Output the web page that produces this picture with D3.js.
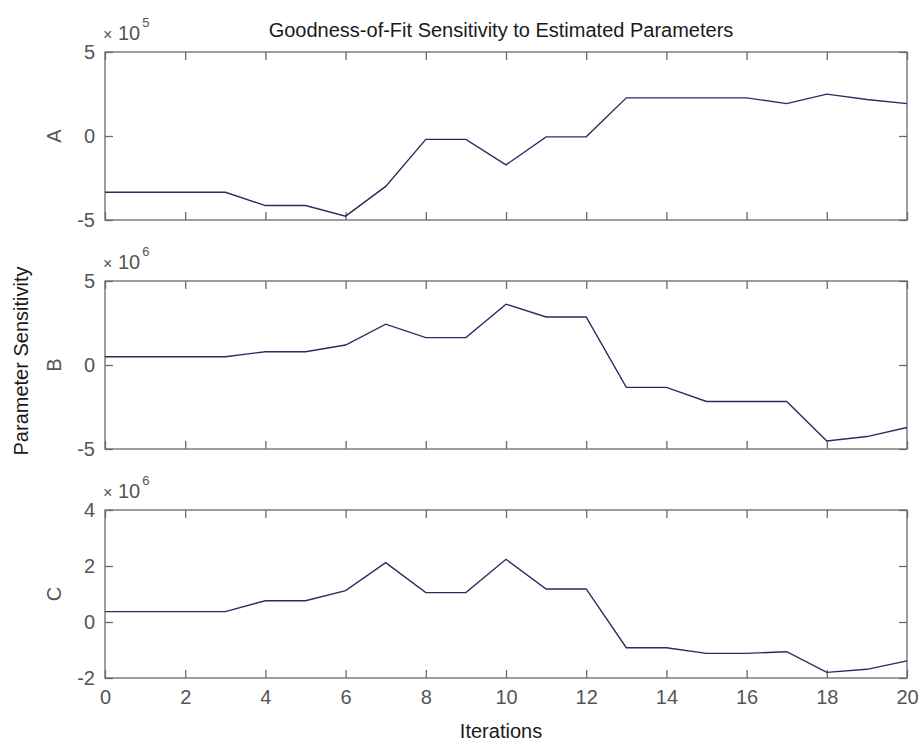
<!DOCTYPE html>
<html>
<head>
<meta charset="utf-8">
<script src="https://cdn.jsdelivr.net/npm/d3@7"></script>
<style>
  body { margin: 0; background: #fff; }
  text { font-family: "Liberation Sans", Arial, sans-serif; }
</style>
</head>
<body>
<div id="chart"></div>
<script>
// iterations on the x axis
const iterations = d3.range(0, 21);
const xTicks = [0, 2, 4, 6, 8, 10, 12, 14, 16, 18, 20];

// series, in units of the panel exponent
const seriesA = [-3.35, -3.35, -3.35, -3.35, -4.14, -4.14, -4.77, -3.0, -0.2, -0.2, -1.72,
  -0.05, -0.05, 2.27, 2.27, 2.27, 2.27, 1.93, 2.49, 2.17, 1.93];
const seriesB = [0.49, 0.49, 0.49, 0.49, 0.79, 0.79, 1.19, 2.43, 1.63, 1.63, 3.62,
  2.86, 2.86, -1.33, -1.33, -2.17, -2.17, -2.17, -4.52, -4.26, -3.72];
const seriesC = [0.37, 0.37, 0.37, 0.37, 0.76, 0.76, 1.12, 2.12, 1.05, 1.05, 2.24,
  1.18, 1.18, -0.92, -0.92, -1.12, -1.12, -1.06, -1.80, -1.69, -1.39];

// per panel: label, y ticks, exponent
const panelLabels = ["A", "B", "C"];
const panelSeries = [seriesA, seriesB, seriesC];
const panelTicks = [[-5, 0, 5], [-5, 0, 5], [-2, 0, 2, 4]];
const panelExponents = [5, 6, 6];

const width = 919, height = 744;
const margin = { left: 105, right: 12 };
const panelTop = 52, panelStep = 229, panelHeight = 168;
const TICK = 8;
const lineColor = "#2b2b62";
const boxColor = "#6a6a6a";
const labelColor = "#555";

const svg = d3.select("#chart").append("svg")
  .attr("width", width)
  .attr("height", height);

const x = d3.scaleLinear()
  .domain([0, 20])
  .range([margin.left, width - margin.right]);

// Title
svg.append("text")
  .attr("x", 501)
  .attr("y", 37)
  .attr("text-anchor", "middle")
  .attr("font-size", 20)
  .attr("fill", "#1a1a1a")
  .text("Goodness-of-Fit Sensitivity to Estimated Parameters");

panelLabels.forEach((label, i) => {
  const top = panelTop + i * panelStep;
  const bottom = top + panelHeight;
  const ticks = panelTicks[i];
  const y = d3.scaleLinear()
    .domain([ticks[0], ticks[ticks.length - 1]])
    .range([bottom, top]);

  const g = svg.append("g");

  // box
  g.append("rect")
    .attr("x", x(0))
    .attr("y", top)
    .attr("width", x(20) - x(0))
    .attr("height", panelHeight)
    .attr("fill", "none")
    .attr("stroke", boxColor)
    .attr("stroke-width", 1.3);

  // inward ticks on all four sides (matlab box style)
  const fmt = d => String(d);
  const noLabel = () => "";
  const bottomAxis = g.append("g")
    .attr("transform", `translate(0,${bottom})`)
    .call(d3.axisBottom(x).tickValues(xTicks).tickSizeInner(-TICK).tickSizeOuter(0).tickPadding(12)
      .tickFormat(i === panelLabels.length - 1 ? fmt : noLabel));
  const topAxis = g.append("g")
    .attr("transform", `translate(0,${top})`)
    .call(d3.axisTop(x).tickValues(xTicks).tickSizeInner(-TICK).tickSizeOuter(0).tickFormat(noLabel));
  const leftAxis = g.append("g")
    .attr("transform", `translate(${x(0)},0)`)
    .call(d3.axisLeft(y).tickValues(ticks).tickSizeInner(-TICK).tickSizeOuter(0).tickPadding(10).tickFormat(fmt));
  const rightAxis = g.append("g")
    .attr("transform", `translate(${x(20)},0)`)
    .call(d3.axisRight(y).tickValues(ticks).tickSizeInner(-TICK).tickSizeOuter(0).tickFormat(noLabel));

  [bottomAxis, topAxis, leftAxis, rightAxis].forEach(a => {
    a.select(".domain").remove();
    a.selectAll(".tick line")
      .attr("stroke", boxColor)
      .attr("stroke-width", 1.3);
    a.selectAll("text")
      .attr("font-size", 20)
      .attr("fill", labelColor)
      .attr("font-family", "Liberation Sans, Arial, sans-serif");
  });

  // data line
  const line = d3.line()
    .x((d, j) => x(iterations[j]))
    .y(d => y(d));
  g.append("path")
    .datum(panelSeries[i])
    .attr("fill", "none")
    .attr("stroke", lineColor)
    .attr("stroke-width", 1.4)
    .attr("d", line);

  // exponent label  x 10^n
  const expo = g.append("text")
    .attr("x", 103)
    .attr("y", top - 12)
    .attr("font-size", 20)
    .attr("fill", labelColor);
  expo.append("tspan").attr("font-size", 16).text("×");
  expo.append("tspan").text(" 10");
  expo.append("tspan")
    .attr("font-size", 13)
    .attr("dy", -13)
    .attr("dx", 2)
    .text(panelExponents[i]);

  // panel y label
  g.append("text")
    .attr("transform", `translate(61,${(top + bottom) / 2}) rotate(-90)`)
    .attr("text-anchor", "middle")
    .attr("font-size", 20)
    .attr("fill", labelColor)
    .text(label);
});

// overall y label, centred on the middle panel
svg.append("text")
  .attr("transform", `translate(28,${panelTop + panelStep + panelHeight / 2 - 4}) rotate(-90)`)
  .attr("text-anchor", "middle")
  .attr("font-size", 20)
  .attr("fill", "#1a1a1a")
  .text("Parameter Sensitivity");

// x label
svg.append("text")
  .attr("x", 501)
  .attr("y", 738)
  .attr("text-anchor", "middle")
  .attr("font-size", 20)
  .attr("fill", "#1a1a1a")
  .text("Iterations");
</script>
</body>
</html>
